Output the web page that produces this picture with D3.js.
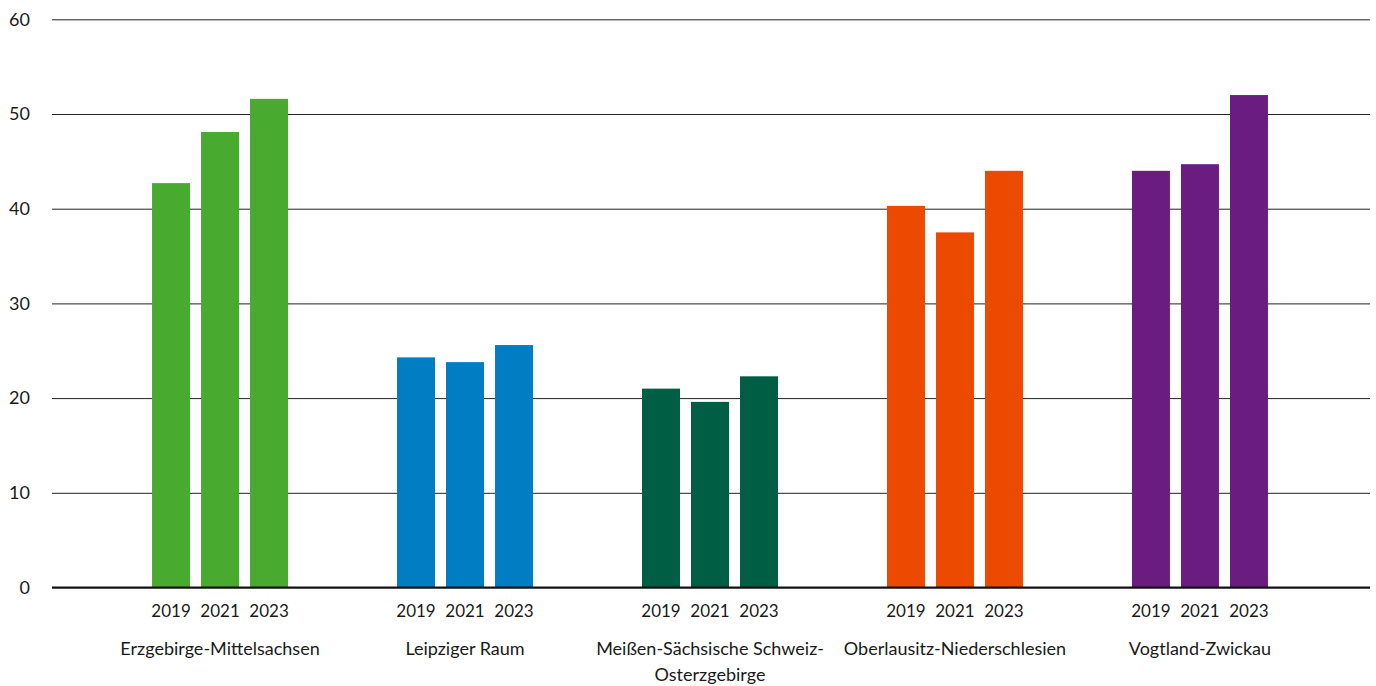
<!DOCTYPE html>
<html>
<head>
<meta charset="utf-8">
<script src="https://cdn.jsdelivr.net/npm/d3@7"></script>
<style>
  html, body { margin: 0; padding: 0; background: #fff; }
  svg { display: block; }
  text { font-family: Lato, "Open Sans", sans-serif; fill: #1a1a1a; }
</style>
</head>
<body>
<svg id="chart" width="1376" height="686"></svg>
<script>
// Regions and their lines of label text
const regions = [
  ["Erzgebirge-Mittelsachsen"],
  ["Leipziger Raum"],
  ["Meißen-Sächsische Schweiz-", "Osterzgebirge"],
  ["Oberlausitz-Niederschlesien"],
  ["Vogtland-Zwickau"]
];
const years = ["2019", "2021", "2023"];
// One entry per region, one array per year
const values2019 = [42.7, 24.3, 21.0, 40.3, 44.0];
const values2021 = [48.1, 23.8, 19.6, 37.5, 44.7];
const values2023 = [51.6, 25.6, 22.3, 44.0, 52.0];
const regionColors = ["#48aa2e", "#007dc3", "#005e45", "#ec4a00", "#6b1c80"];
const yTicks = [0, 10, 20, 30, 40, 50, 60];

const svg = d3.select("#chart");
const plotLeft = 52, plotRight = 1370, plotTop = 19.3, plotBottom = 587.5;

const y = d3.scaleLinear().domain([0, 60]).range([plotBottom, plotTop]);
const x0 = d3.scalePoint().domain(d3.range(regions.length)).range([plotLeft - 1, plotRight - 1]).padding(0.69);
const x1 = d3.scaleBand().domain(years).range([-68, 68]).paddingInner(11 / 49).paddingOuter(0);

// Horizontal grid lines with value labels
const yAxis = d3.axisLeft(y).tickValues(yTicks).tickSize(-(plotRight - plotLeft)).tickPadding(22).tickFormat(d3.format("d"));
const gy = svg.append("g").attr("transform", `translate(${plotLeft},0)`).call(yAxis);
gy.select(".domain").remove();
gy.selectAll(".tick line").attr("stroke", "#222").attr("stroke-width", 1);
gy.selectAll(".tick text").attr("font-size", 18).attr("fill", "#1a1a1a").style("font-family", "Lato, 'Open Sans', sans-serif");

// Bars
const series = [values2019, values2021, values2023];
const data = [];
regions.forEach((r, i) => years.forEach((yr, j) => data.push({ i, yr, v: series[j][i] })));

svg.append("g").selectAll("rect").data(data).join("rect")
  .attr("x", d => x0(d.i) + x1(d.yr))
  .attr("width", x1.bandwidth())
  .attr("y", d => y(d.v))
  .attr("height", d => y(0) - y(d.v))
  .attr("fill", d => regionColors[d.i]);

// Baseline
svg.append("line")
  .attr("x1", plotLeft).attr("x2", plotRight)
  .attr("y1", y(0)).attr("y2", y(0))
  .attr("stroke", "#111").attr("stroke-width", 2);

// Year labels under each bar
svg.append("g").selectAll("text").data(data).join("text")
  .attr("x", d => x0(d.i) + x1(d.yr) + x1.bandwidth() / 2)
  .attr("y", 617)
  .attr("text-anchor", "middle")
  .attr("font-size", 17)
  .text(d => d.yr);

// Region labels
const rg = svg.append("g").selectAll("text").data(regions).join("text")
  .attr("x", (d, i) => x0(i))
  .attr("y", 655)
  .attr("text-anchor", "middle")
  .attr("font-size", 18);
rg.selectAll("tspan").data(d => d).join("tspan")
  .attr("x", function () { return d3.select(this.parentNode).attr("x"); })
  .attr("dy", (d, k) => k === 0 ? 0 : 26)
  .text(d => d);
</script>
</body>
</html>
